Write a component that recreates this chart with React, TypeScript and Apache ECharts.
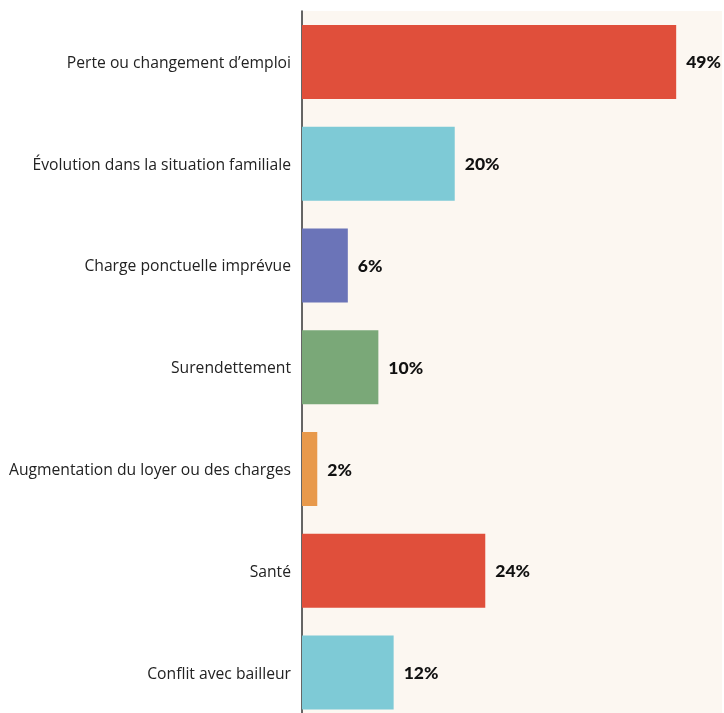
import React, { useEffect, useRef } from "react";
import * as echarts from "echarts";

const categories = [
  "Perte ou changement d\u2019emploi",
  "\u00c9volution dans la situation familiale",
  "Charge ponctuelle impr\u00e9vue",
  "Surendettement",
  "Augmentation du loyer ou des charges",
  "Sant\u00e9",
  "Conflit avec bailleur",
];
const values = [49, 20, 6, 10, 2, 24, 12];
const colors = ["#e04f3b", "#7ecad6", "#6b74b8", "#7aa878", "#e8994b", "#e04f3b", "#7ecad6"];

export default function App() {
  const ref = useRef<HTMLDivElement>(null);
  useEffect(() => {
    if (!ref.current) return;
    const chart = echarts.init(ref.current, null, { renderer: "svg" });
    chart.setOption({
      animation: false,
      grid: {
        left: 302,
        top: 11,
        width: 420,
        height: 712.5,
        show: true,
        backgroundColor: "#fcf7f1",
        borderWidth: 0,
      },
      xAxis: {
        type: "value",
        min: 0,
        max: 55,
        show: false,
      },
      yAxis: {
        type: "category",
        data: categories,
        inverse: true,
        axisLine: { show: true, lineStyle: { color: "#333", width: 1.5 } },
        axisTick: { show: false },
        axisLabel: {
          margin: 11,
          color: "#222",
          fontSize: 15.7,
          fontFamily: "Open Sans",
        },
      },
      series: [
        {
          type: "bar",
          data: values.map((v, i) => ({ value: v, itemStyle: { color: colors[i] } })),
          barWidth: 74,
          label: {
            show: true,
            position: "right",
            distance: 10,
            formatter: "{c}%",
            color: "#111",
            fontSize: 17.5,
            fontWeight: 900,
            fontFamily: "Lato",
          },
        },
      ],
    });
    return () => chart.dispose();
  }, []);
  return (
    <div
      ref={ref}
      style={{ position: "fixed", left: 0, top: 0, width: 724, height: 730 }}
    />
  );
}
